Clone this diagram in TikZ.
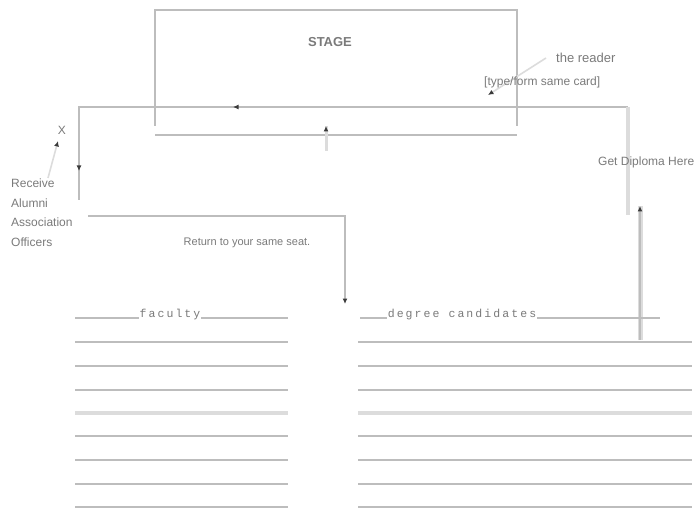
\documentclass[tikz,border=0pt]{standalone}
\usepackage{fontspec}
\setmainfont{Liberation Sans}
\newfontfamily\monof[LetterSpace=18]{Liberation Mono}
\usetikzlibrary{arrows.meta}
\definecolor{ln}{HTML}{BDBDBD}
\definecolor{lnl}{HTML}{DCDCDC}
\definecolor{tx}{HTML}{7A7A7A}
\definecolor{mk}{HTML}{3A3A3A}
\tikzset{
  conn/.style={draw=ln, line width=1.6pt},
  faint/.style={draw=lnl, line width=4.5pt},
  tipmk/.style={draw=ln, line width=1.6pt, arrows={-{Latex[length=5.5pt,width=5pt,fill=mk,color=mk]}}},
  lbl/.style={text=tx, inner sep=1pt, font=\fontsize{11}{12}\selectfont},
  mlbl/.style={text=tx, inner sep=1pt, fill=white, font=\fontsize{11.5}{12}\selectfont\monof},
}
\begin{document}
\begin{tikzpicture}[x=1pt,y=-1pt]
\useasboundingbox (0,0) rectangle (694,508);
% stage
\coordinate (s1) at (155,126); \coordinate (s2) at (155,10);
\coordinate (s3) at (517,10); \coordinate (s4) at (517,126);
\draw[conn] (s1) -- (s2) -- (s3) -- (s4);
\coordinate (sb1) at (155,135); \coordinate (sb2) at (517,135);
\draw[conn] (sb1) -- (sb2);
\node[lbl, font=\fontsize{13}{14}\selectfont\bfseries] (stage) at (330,42) {STAGE};
% small vertical below stage
\coordinate (sv0) at (326,151); \coordinate (sv1) at (326,126);
\draw[faint, line width=3pt] (sv0) -- (sv1);
\coordinate (sv2) at (326,136);
\draw[tipmk, draw=lnl] (sv2) -- (sv1);
% main route across stage
\coordinate (r0) at (79,200); \coordinate (r1) at (79,107);
\coordinate (r2) at (628,107); \coordinate (r3) at (628,215);
\draw[conn] (r2) -- (r1) -- (r0);
\coordinate (ra) at (248,107); \coordinate (rb) at (233,107);
\draw[tipmk] (ra) -- (rb);
\coordinate (rc) at (79,156); \coordinate (rd) at (79,171);
\draw[tipmk] (rc) -- (rd);
\draw[faint] (r2) -- (r3);
% diploma aisle
\coordinate (dv0) at (640,340); \coordinate (dv1) at (640,206);
\draw[faint, line width=5pt] (dv0) -- (dv1);
\draw[tipmk, draw=ln] (dv0) -- (dv1);
% return route
\coordinate (t0) at (88,216); \coordinate (t1) at (345,216); \coordinate (t2) at (345,304);
\draw[tipmk] (t0) -- (t1) -- (t2);
% the reader
\coordinate (rd0) at (546,58); \coordinate (rd1) at (488,95);
\draw[tipmk, draw=lnl] (rd0) -- (rd1);
\node[lbl, anchor=west, font=\fontsize{13}{14}\selectfont] (reader) at (555,58) {the reader};
\node[lbl, anchor=west, font=\fontsize{12}{13}\selectfont] (card) at (483,82) {[type/form same card]};
% X and officers
\node[lbl, font=\fontsize{12}{13}\selectfont] (x) at (62,130) {X};
\coordinate (x0) at (48,178); \coordinate (x1) at (58,141);
\draw[tipmk, draw=lnl] (x0) -- (x1);
\node[lbl, anchor=west, font=\fontsize{12}{13}\selectfont] (o1) at (10,183) {Receive};
\node[lbl, anchor=west, font=\fontsize{12}{13}\selectfont] (o2) at (10,203) {Alumni};
\node[lbl, anchor=west, font=\fontsize{12}{13}\selectfont] (o3) at (10,222) {Association};
\node[lbl, anchor=west, font=\fontsize{12}{13}\selectfont] (o4) at (10,242) {Officers};
\node[lbl, anchor=west, font=\fontsize{12}{13}\selectfont] (dip) at (597,162) {Get Diploma Here};
\node[lbl, font=\fontsize{11}{12}\selectfont] (ret) at (247,243) {Return to your same seat.};
% seat lines
\foreach \y in {342,366,390,436,460,484,507} {
  \coordinate (la) at (75,\y); \coordinate (lb) at (288,\y);
  \coordinate (ra) at (358,\y); \coordinate (rb) at (692,\y);
  \draw[conn] (la) -- (lb);
  \draw[conn] (ra) -- (rb);
}
\coordinate (fa) at (75,413); \coordinate (fb) at (288,413);
\coordinate (fc) at (358,413); \coordinate (fd) at (692,413);
\draw[faint] (fa) -- (fb);
\draw[faint] (fc) -- (fd);
\coordinate (h1) at (75,318); \coordinate (h2) at (288,318);
\coordinate (h3) at (360,318); \coordinate (h4) at (660,318);
\draw[conn] (h1) -- (h2);
\draw[conn] (h3) -- (h4);
\node[mlbl, anchor=base] (fac) at (170,317) {faculty};
\node[mlbl, anchor=base] (deg) at (462,317) {degree candidates};
\end{tikzpicture}
\end{document}
